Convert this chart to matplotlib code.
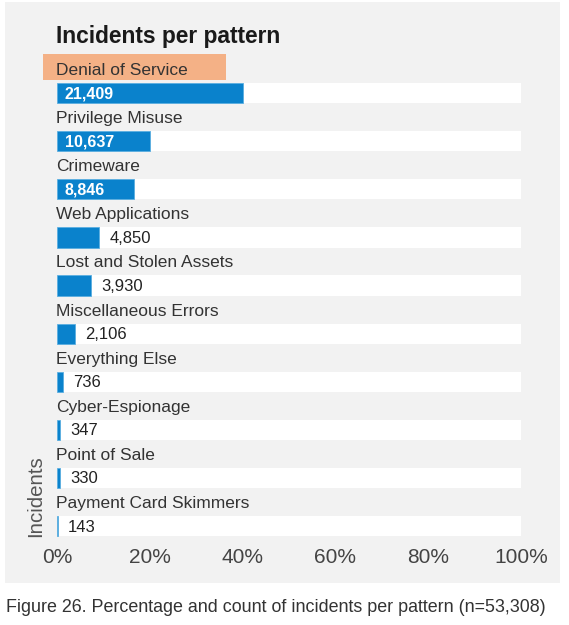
import matplotlib
matplotlib.use("Agg")
import matplotlib.pyplot as plt
import matplotlib.transforms as mtransforms
from matplotlib.patches import Rectangle

patterns = ["Denial of Service", "Privilege Misuse", "Crimeware", "Web Applications",
            "Lost and Stolen Assets", "Miscellaneous Errors", "Everything Else",
            "Cyber-Espionage", "Point of Sale", "Payment Card Skimmers"]
counts = [21409, 10637, 8846, 4850, 3930, 2106, 736, 347, 330, 143]
total_n = 53308
xticks = [0, 20, 40, 60, 80, 100]
xtick_labels = ["0%", "20%", "40%", "60%", "80%", "100%"]
title = "Incidents per pattern"
ylabel = "Incidents"
caption = "Figure 26. Percentage and count of incidents per pattern (n=53,308)"
highlight = "Denial of Service"

plt.rcParams['font.family'] = ['Liberation Sans', 'DejaVu Sans']

W, H = 569, 625
fig = plt.figure(figsize=(W / 100, H / 100), dpi=100)
fig.patch.set_facecolor("white")

# gray panel
fig.patches.append(Rectangle((5 / W, 1 - 583 / H), 555 / W, 581 / H,
                             transform=fig.transFigure, facecolor="#F2F2F2",
                             edgecolor="none", zorder=-5))

ax = fig.add_axes([57 / W, 1 - 540 / H, 464 / W, 495 / H])
ax.set_zorder(2)
ax.set_facecolor("none")
ax.set_xlim(0, 100)
ax.set_ylim(9.29, -1.0)

BAR_H = 0.42
blue = "#0A82CC"
pcts = [c / total_n * 100 for c in counts]
ypos = list(range(len(patterns)))

ax.barh(ypos, [100] * len(patterns), height=BAR_H, color="white", zorder=1)
ax.barh(ypos, pcts, height=BAR_H, color=blue, edgecolor="#5AAEE0",
        linewidth=0.6, zorder=2)

for y, name, c, p in zip(ypos, patterns, counts, pcts):
    if name == highlight:
        ax.add_patch(Rectangle((-3.0, y - 0.81), 39.4, 0.54, facecolor="#F4B186",
                               edgecolor="none", clip_on=False, zorder=2))
    ax.text(-0.2, y - 0.47, name, ha="left", va="center", fontsize=12.5,
            color="#333333", zorder=3, clip_on=False)
    if p > 12:
        ax.text(1.7, y + 0.02, f"{c:,}", ha="left", va="center", fontsize=11.5,
                fontweight="bold", color="white", zorder=3)
    else:
        off = mtransforms.offset_copy(ax.transData, fig=fig, x=10, y=0, units="dots")
        ax.text(p, y + 0.02, f"{c:,}", ha="left", va="center", fontsize=12,
                color="#222222", zorder=3, transform=off)

ax.set_xticks(xticks)
ax.set_xticklabels(xtick_labels, fontsize=15, color="#444444")
ax.tick_params(axis="x", length=0, pad=6)
ax.set_yticks([])
for s in ax.spines.values():
    s.set_visible(False)

fig.text(56 / W, 1 - 36 / H, title, ha="left", va="center", fontsize=16.4,
         fontweight="bold", color="#1a1a1a")
fig.text(36 / W, 1 - 496 / H, ylabel, ha="center", va="center", rotation=90,
         fontsize=14.8, color="#555555")
fig.text(6 / W, 1 - 608 / H, caption, ha="left", va="center", fontsize=12.9,
         color="#333333")

fig.savefig("out.png", dpi=100, facecolor="white")
